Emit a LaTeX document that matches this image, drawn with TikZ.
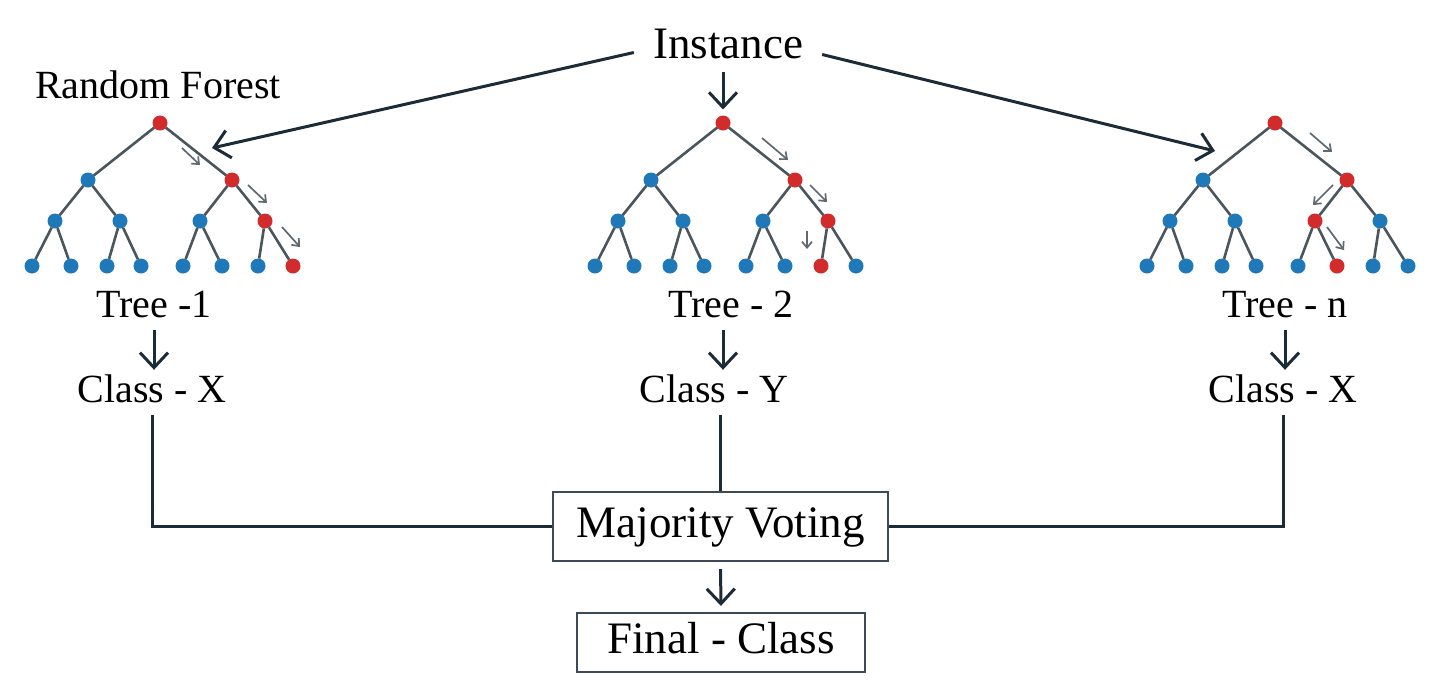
\documentclass[tikz,border=0pt]{standalone}
\usepackage{fontspec}
\setmainfont{Liberation Serif}
\usetikzlibrary{arrows.meta,calc}
\definecolor{rd}{HTML}{D22B2B}
\definecolor{bl}{HTML}{1F78B8}
\definecolor{ln}{HTML}{1C2B38}
\definecolor{ed}{HTML}{4A565C}
\definecolor{sm}{HTML}{5F696F}
\tikzset{
  dot/.style={circle,minimum size=15pt,inner sep=0pt,outer sep=0pt},
  edge/.style={draw=ed,line width=2.6pt},
  lbl/.style={font=\fontsize{40}{48}\selectfont,text height=28pt,text depth=9pt,inner sep=4pt},
  big/.style={font=\fontsize{45}{54}\selectfont,text height=31pt,text depth=10pt,inner sep=4pt},
  box/.style={big,draw=ln!85,line width=2.2pt},
  conn/.style={draw=ln,line width=3pt},
  arr/.style={conn,-{Straight Barb[length=15pt,width=28pt,line width=3pt]}},
  sarr/.style={draw=sm,line width=1.7pt,-{Straight Barb[length=6pt,width=10pt,line width=1.7pt]}},
}
\newcommand\rftree[4]{%
  \node[dot,fill=rd] (#1r) at (#2,123) {};
  \node[dot,fill=bl] (#1a1) at (#2-72,180) {};
  \node[dot,fill=rd] (#1a2) at (#2+72,180) {};
  \foreach \dx [count=\i] in {-105,-40,40,105} {
    \ifnum\i=#3 \def\col{rd}\else\def\col{bl}\fi
    \node[dot,fill=\col] (#1b\i) at (#2+\dx,221) {};
  }
  \foreach \dx [count=\i] in {-128,-89,-53,-19,23,62,98,133} {
    \ifnum\i=#4 \def\col{rd}\else\def\col{bl}\fi
    \node[dot,fill=\col] (#1c\i) at (#2+\dx,266) {};
  }
  \draw[edge] (#1r) -- (#1a1);
  \draw[edge] (#1r) -- (#1a2);
  \draw[edge] (#1a1) -- (#1b1);
  \draw[edge] (#1a1) -- (#1b2);
  \draw[edge] (#1a2) -- (#1b3);
  \draw[edge] (#1a2) -- (#1b4);
  \foreach \i in {1,...,8} {
    \pgfmathtruncatemacro\p{(\i+1)/2}
    \draw[edge] (#1b\p) -- (#1c\i);
  }
}
\begin{document}
\begin{tikzpicture}[x=1pt,y=-1pt]
\useasboundingbox (0,0) rectangle (1438,694);
\fill[white] (0,0) rectangle (1438,694);

% trees
\rftree{ta}{160}{4}{8}
\rftree{tb}{723}{4}{7}
\rftree{tc}{1275}{3}{6}

% small path arrows
\draw[sarr] (182,148) -- (200,165);
\draw[sarr] (248,185) -- (267,203);
\draw[sarr] (282,227) -- (300,247);
\draw[sarr] (762,138) -- (788,160);
\draw[sarr] (810,185) -- (827,202);
\draw[sarr] (807,231) -- (807,249);
\draw[sarr] (1310,133) -- (1332,152);
\draw[sarr] (1333,185) -- (1313,205);
\draw[sarr] (1327,227) -- (1344,250);

% texts
\node[big,anchor=base,inner xsep=19pt] (inst) at (728,58) {Instance};
\node[lbl,anchor=base west,inner sep=0pt] (rf) at (35,98) {Random Forest};
\node[lbl,anchor=base] (t1) at (154,317) {Tree -1};
\node[lbl,anchor=base] (t2) at (731,317) {Tree - 2};
\node[lbl,anchor=base] (t3) at (1285,317) {Tree - n};
\node[lbl,anchor=base] (c1) at (152,402) {Class - X};
\node[lbl,anchor=base] (c2) at (714,402) {Class - Y};
\node[lbl,anchor=base] (c3) at (1283,402) {Class - X};

\node[box,minimum width=335pt,minimum height=69pt] (mv) at (720.5,526.5) {Majority Voting};
\node[box,minimum width=288pt,minimum height=59pt] (fc) at (721,642.5) {Final - Class};

\coordinate (tip1) at (212,148);
\coordinate (tip3) at (1215,151);

% instance connectors
\draw[arr] ([yshift=-5pt]inst.west) -- (tip1);
\draw[arr] ([yshift=-7pt]inst.east) -- (tip3);
\draw[arr,shorten >=6pt] (inst.south -| tbr) -- (tbr);

% tree to class arrows
\draw[arr] (t1.south) -- (t1.south |- c1.north);
\draw[arr] (t2.south -| tbr) -- (c2.north -| tbr);
\draw[arr] (t3.south) -- (t3.south |- c3.north);

% class to voting
\draw[conn] (c1.south) |- (mv.west);
\draw[conn] (mv.north |- c2.south) -- (mv.north);
\draw[conn] (c3.south) |- (mv.east);

\draw[arr,shorten <=7pt,shorten >=6pt] (mv.south) -- (fc.north);
\end{tikzpicture}
\end{document}
